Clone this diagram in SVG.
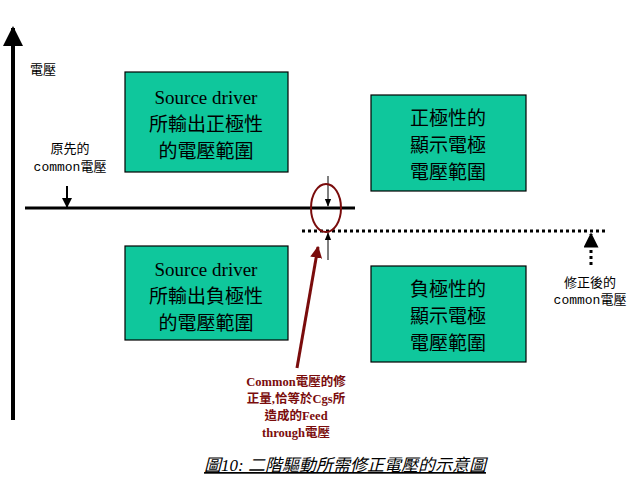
<svg xmlns="http://www.w3.org/2000/svg" width="638" height="480" viewBox="0 0 638 480">
<style>
.box{fill:#0fc79c;stroke:#000;stroke-width:1.2}
.bt{font-family:"Liberation Serif","Noto Sans CJK TC",serif;font-size:19px;text-anchor:middle;fill:#000}
.lb{font-family:"Liberation Mono","Noto Sans CJK TC",monospace;font-size:13px;text-anchor:middle;fill:#000}
.rt{font-family:"Liberation Serif","Noto Sans CJK TC",serif;font-size:12.5px;font-weight:bold;text-anchor:middle;fill:#7a0c0c}
</style>
<defs>
<marker id="ah" viewBox="0 0 10 10" refX="9" refY="5" markerWidth="5" markerHeight="5" orient="auto"><path d="M0,0L10,5L0,10z" fill="#000"/></marker>
<marker id="ahs" viewBox="0 0 10 10" refX="9" refY="5" markerWidth="8" markerHeight="8" orient="auto" markerUnits="userSpaceOnUse"><path d="M0,1L10,5L0,9z" fill="#000"/></marker>
<marker id="ahr" viewBox="0 0 10 10" refX="9" refY="5" markerWidth="4" markerHeight="4" orient="auto"><path d="M0,0L10,5L0,10z" fill="#7a0c0c"/></marker>
</defs>
<rect width="638" height="480" fill="#fff"/>
<g id="connectors">
<line x1="13" y1="420" x2="13" y2="28" stroke="#000" stroke-width="4" marker-end="url(#ah)"/>
<line x1="25" y1="208" x2="355" y2="208" stroke="#000" stroke-width="3"/>
<line x1="302" y1="231" x2="608" y2="231" stroke="#000" stroke-width="3" stroke-dasharray="3,3"/>
<line x1="67" y1="186" x2="67" y2="207" stroke="#000" stroke-width="2" marker-end="url(#ah)"/>
<line x1="591" y1="265" x2="591" y2="234" stroke="#000" stroke-width="3" stroke-dasharray="3,3" marker-end="url(#ah)"/>
<line x1="328" y1="176" x2="328" y2="206" stroke="#000" stroke-width="1" marker-end="url(#ahs)"/>
<line x1="328" y1="260" x2="328" y2="233" stroke="#000" stroke-width="1" marker-end="url(#ahs)"/>
<ellipse cx="326" cy="208" rx="15" ry="24" fill="none" stroke="#7a0c0c" stroke-width="2"/>
<line x1="297" y1="368" x2="318" y2="247" stroke="#7a0c0c" stroke-width="3" marker-end="url(#ahr)"/>
</g>
<g id="box1"><rect class="box" x="125" y="72" width="163" height="100"/>
<text class="bt" x="206" y="104">Source driver</text><text class="bt" x="206" y="131">所輸出正極性</text><text class="bt" x="206" y="158">的電壓範圍</text></g>
<g id="box2"><rect class="box" x="125" y="246" width="163" height="94"/>
<text class="bt" x="206" y="276">Source driver</text><text class="bt" x="206" y="303">所輸出負極性</text><text class="bt" x="206" y="330">的電壓範圍</text></g>
<g id="box3"><rect class="box" x="371" y="95" width="155" height="96"/>
<text class="bt" x="448" y="125">正極性的</text><text class="bt" x="448" y="152">顯示電極</text><text class="bt" x="448" y="179">電壓範圍</text></g>
<g id="box4"><rect class="box" x="371" y="266" width="155" height="96"/>
<text class="bt" x="448" y="296">負極性的</text><text class="bt" x="448" y="323">顯示電極</text><text class="bt" x="448" y="350">電壓範圍</text></g>
<g id="labels">
<text class="lb" x="43" y="74">電壓</text>
<text class="lb" x="70" y="153">原先的</text>
<text class="lb" x="70" y="171">common電壓</text>
<text class="lb" x="590" y="287">修正後的</text>
<text class="lb" x="590" y="304">common電壓</text>
<text class="rt" x="296" y="386">Common電壓的修</text>
<text class="rt" x="296" y="403">正量,恰等於Cgs所</text>
<text class="rt" x="296" y="420">造成的Feed</text>
<text class="rt" x="296" y="437">through電壓</text>
<text x="345" y="471" font-family="Liberation Serif,'Noto Sans CJK TC',serif" font-size="17" font-style="italic" text-decoration="underline" text-anchor="middle">圖10: 二階驅動所需修正電壓的示意圖</text>
</g>
</svg>
